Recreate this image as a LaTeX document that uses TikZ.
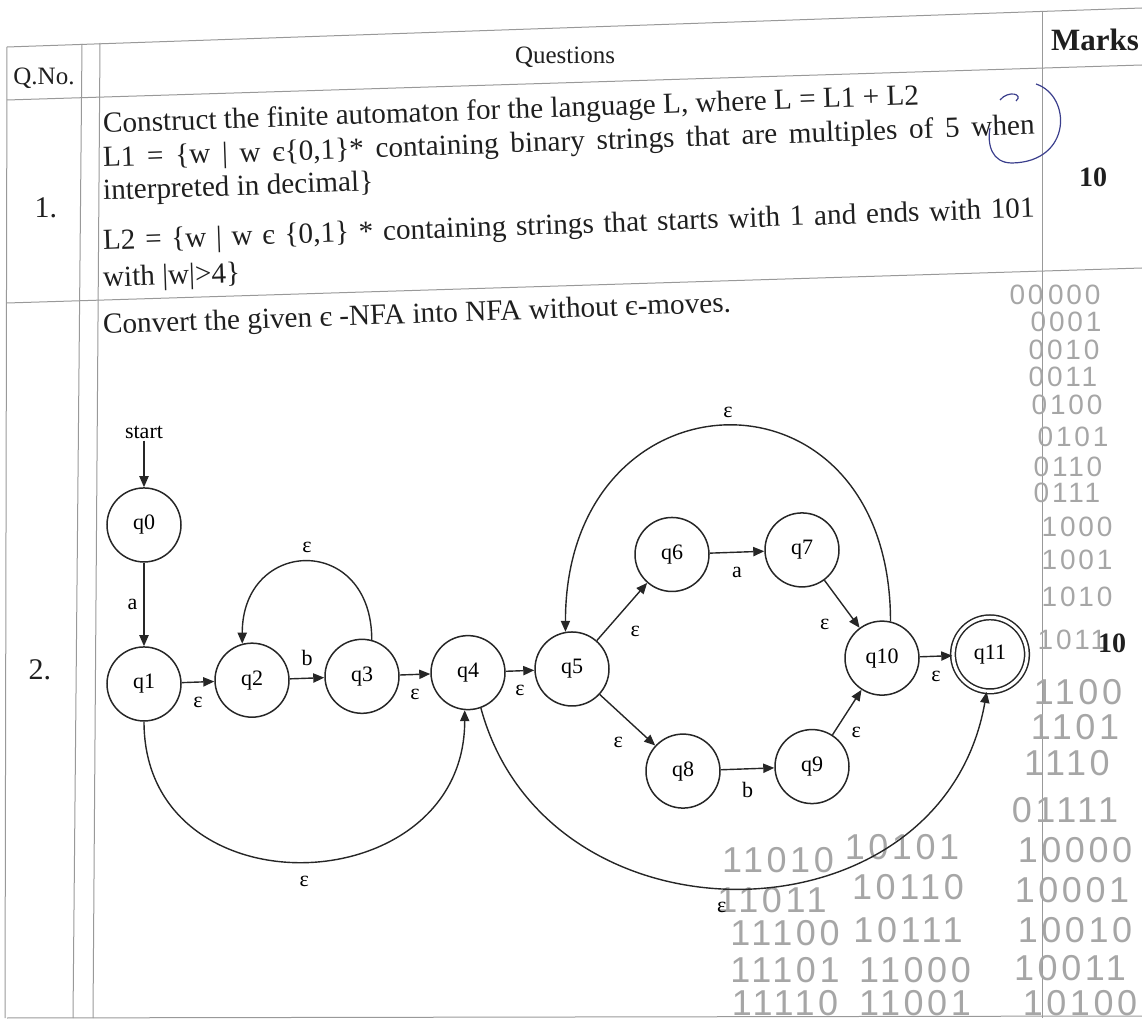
\documentclass[tikz,border=0pt]{standalone}
\usepackage{fontspec}
\setmainfont{Liberation Serif}
\newfontfamily\handfont[LetterSpace=10]{Liberation Sans}
\usetikzlibrary{arrows.meta,positioning}
\definecolor{ink}{RGB}{58,62,140}
\tikzset{
  state/.style={circle, draw=black!85, line width=0.75pt, minimum size=37pt,
    inner sep=0pt, font=\fontsize{11}{13}\selectfont},
  accept/.style={state, double, double distance=1.6pt},
  trans/.style={-{Triangle[length=5.5pt, width=4.6pt]}, line width=0.7pt, draw=black!85},
  lbl/.style={font=\fontsize{11}{13}\selectfont, inner sep=1pt},
  qtext/.style={anchor=base west, font=\fontsize{14.6}{17}\selectfont, inner sep=0pt,
    rotate=2, text=black!88},
  head/.style={font=\fontsize{12.5}{15}\selectfont, inner sep=0pt, text=black!88},
  bold/.style={head, font=\bfseries\fontsize{14}{16}\selectfont},
  rule/.style={draw=black!40, line width=0.5pt},
  pencil/.style={font=\handfont\fontsize{14}{14}\selectfont, text=black!35, inner sep=0pt},
  bigpencil/.style={pencil, font=\handfont\fontsize{18}{18}\selectfont},
}
\begin{document}
\begin{tikzpicture}[x=0.5pt, y=-0.5pt]
  \useasboundingbox (0,0) rectangle (1142,1021);
  % table rules
  \draw[rule] (7,47) -- (1142,8);
  \draw[rule] (7,100) -- (1142,65);
  \draw[rule] (7,303) -- (1142,268);
  \draw[rule] (7,1018) -- (1142,1016);
  \draw[rule] (7,47) -- (5,1018);
  \draw[rule] (82,44) -- (73,1018);
  \draw[rule] (100,43) -- (93,1018);
  \draw[rule] (1042,11) -- (1042,1018);
  % header
  \node[head] (qno) at (44,78) {Q.No.};
  \node[head] (qhead) at (565,57) {Questions};
  \node[bold, font=\bfseries\fontsize{15.5}{17}\selectfont] (mhead) at (1095,40) {Marks};
  % question 1
  \node[head, font=\fontsize{15}{18}\selectfont] (n1) at (46,208) {1.};
  \node[qtext] (l1a) at (103,133) {Construct the finite automaton for the language L, where L = L1 + L2};
  \node[qtext] (l1b) at (103,167) {\hbox to 466pt{L1 = \{w | w є\{0,1\}* containing binary strings that are multiples of 5 when}};
  \node[qtext] (l1c) at (103,200) {interpreted in decimal\}};
  \node[qtext] (l1d) at (103,250) {\hbox to 466pt{L2 = \{w | w є \{0,1\} * containing strings that starts with 1 and ends with 101}};
  \node[qtext] (l1e) at (103,287) {with |w|>4\}};
  \node[bold] (m1) at (1093,177) {10};
  % question 2
  \node[head, font=\fontsize{15}{18}\selectfont] (n2) at (40,670) {2.};
  \node[qtext] (l2a) at (103,334) {Convert the given є -NFA into NFA without є-moves.};
  % pencil notes
  \foreach \px/\py/\pt [count=\i] in {1055/295/00\,000, 1066/322/0001, 1064/350/0010,
      1063/377/0011, 1067/405/0100, 1073/437/0101, 1068/467/0110, 1067/493/0111,
      1077/527/1000, 1077/560/1001, 1077/597/1010, 1072/640/1011}
    \node[pencil] (hp\i) at (\px,\py) {\pt};
  \foreach \px/\py/\pt [count=\i] in {1078/692/1100, 1075/727/1101, 1067/763/1110,
      1065/810/01111, 1075/850/10000, 1072/890/10001, 1075/930/10010, 1070/968/10011,
      1080/1003/10100, 902/847/10101, 908/887/10110, 908/930/10111, 915/970/11000,
      915/1003/11001, 778/860/11010, 772/900/11011, 785/933/11100, 785/970/11101,
      785/1003/11110}
    \node[bigpencil] (hq\i) at (\px,\py) {\pt};
  \node[bold] (m2) at (1112,643) {10};
  \draw[ink, line width=0.6pt] (1036,84) .. controls (1072,96) and (1072,162) .. (1012,163)
    .. controls (992,163) and (987,145) .. (990,128);
  \draw[ink, line width=0.6pt] (1000,100) .. controls (1008,90) and (1024,94) .. (1016,101);
  % the automaton
  \begin{scope}[yslant=0.035]
    \node[state] (q0) at (144,530) {q0};
    \node[state] (q1) at (144,689) {q1};
    \node[state] (q2) at (252,689) {q2};
    \node[state] (q3) at (362,689) {q3};
    \node[state] (q4) at (468,689) {q4};
    \node[state] (q5) at (572,689) {q5};
    \node[state] (q6) at (672,578) {q6};
    \node[state] (q7) at (802,578) {q7};
    \node[state] (q8) at (683,795) {q8};
    \node[state] (q9) at (812,795) {q9};
    \node[state] (q10) at (882,689) {q10};
    \node[accept] (q11) at (990,689) {q11};
    \node[lbl] (start) at (144,437) {start};

    \draw[trans] (start) -- (q0);
    \draw[trans] (q0) -- node[lbl, left=2pt] {a} (q1);
    \draw[trans] (q1) -- node[lbl, below=6pt] {ε} (q2);
    \draw[trans] (q2) -- node[lbl, above=5pt] {b} (q3);
    \draw[trans] (q3) -- node[lbl, below=6pt] {ε} (q4);
    \draw[trans] (q4) -- node[lbl, below=6pt] {ε} (q5);
    \draw[trans] (q5) -- node[lbl, below right=6pt and 3pt] {ε} (q6);
    \draw[trans] (q6) -- node[lbl, below=6pt] {a} (q7);
    \draw[trans] (q7) -- node[lbl, below left=6pt and 5pt] {ε} (q10);
    \draw[trans] (q5) -- node[lbl, below left=7pt and 1pt] {ε} (q8);
    \draw[trans] (q8) -- node[lbl, below=5.5pt] {b} (q9);
    \draw[trans] (q9) -- node[lbl, below right=6pt and 1pt] {ε} (q10);
    \draw[trans] (q10) -- node[lbl, below=6pt] {ε} (q11);
    \draw[trans] (q3.75) to[out=90, in=90, looseness=2.1] node[lbl, above=3pt] {ε} (q2.105);
    \draw[trans] (q10.77) to[out=90, in=90, looseness=2.1] node[lbl, above=3pt] {ε} (q5.100);
    \draw[trans] (q1.270) to[out=-90, in=-90, looseness=1.55] node[lbl, below=6pt] {ε} (q4.265);
    \draw[trans] (q4.290) to[out=-75, in=-100, looseness=1.3] node[lbl, pos=0.47, below=6pt] {ε} (q11.265);
  \end{scope}
\end{tikzpicture}
\end{document}
